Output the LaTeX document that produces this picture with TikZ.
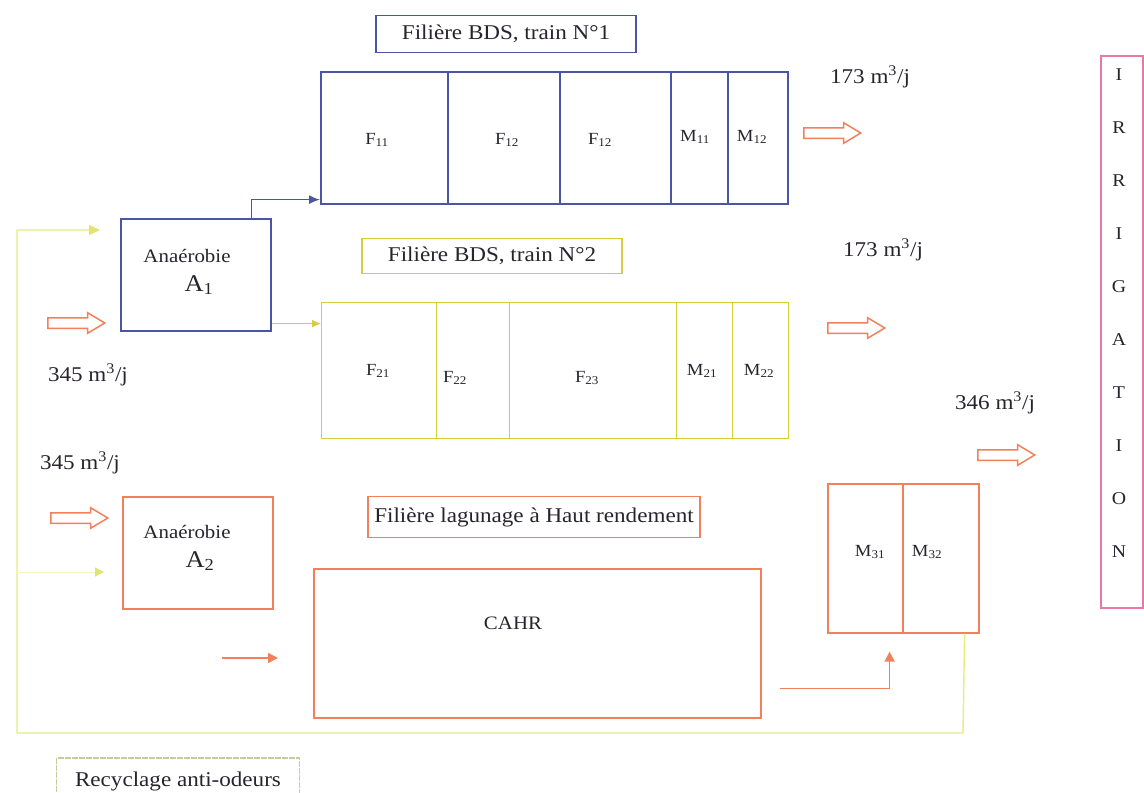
\documentclass[tikz,border=0pt]{standalone}
\usepackage{fontspec}
\setmainfont{Liberation Serif}[FakeStretch=1.1]
\usetikzlibrary{shapes.arrows,arrows.meta,calc}
\definecolor{cblue}{RGB}{75,85,165}
\definecolor{cyel}{RGB}{215,205,60}
\definecolor{cloop}{RGB}{228,236,130}
\definecolor{cloopl}{RGB}{242,246,200}
\definecolor{corange}{RGB}{242,128,90}
\definecolor{cpink}{RGB}{232,120,165}
\definecolor{crec}{RGB}{200,203,160}
\definecolor{ink}{RGB}{40,35,45}
\newcommand{\fs}[1]{\fontsize{#1}{#1}\selectfont}
\begin{document}
\begin{tikzpicture}[x=1pt,y=-1pt,
  every node/.style={inner sep=0pt, text=ink},
  cell/.style={draw, rectangle, anchor=north west, line width=1.6pt},
  bcell/.style={cell, draw=cblue},
  ycell/.style={cell, draw=cyel, line width=1.4pt},
  ocell/.style={cell, draw=corange},
  hollow/.style={single arrow, draw=corange, line width=1.5pt, inner xsep=0pt, inner ysep=4.5pt,
    minimum height=57pt, single arrow head extend=5pt, single arrow tip angle=62, anchor=tail},
  lbl/.style={font=\fs{21}},
  cellt/.style={font=\fs{17}},
  smallt/.style={font=\fs{19}},
  bigA/.style={font=\fs{24}},
  tag/.style={line width=1.5pt, rectangle, lbl}
]
\useasboundingbox (0,0) rectangle (1144,793);

% Train 1
\node[tag, draw=cblue, minimum width=260pt, minimum height=37pt] (L1) at (506,34) {Filière BDS, train N°1};
\node[bcell, minimum width=127pt, minimum height=132pt] (F11) at (320,71) {};
\node[bcell, minimum width=112pt, minimum height=132pt] (F12a) at (447,71) {};
\node[bcell, minimum width=111pt, minimum height=132pt] (F12b) at (559,71) {};
\node[bcell, minimum width=57pt, minimum height=132pt] (M11) at (670,71) {};
\node[bcell, minimum width=60pt, minimum height=132pt] (M12) at (727,71) {};
\node[cellt] (tF11) at (377,140) {F\textsubscript{11}};
\node[cellt] (tF12a) at (507,140) {F\textsubscript{12}};
\node[cellt] (tF12b) at (600,140) {F\textsubscript{12}};
\node[cellt] (tM11) at (695,137) {M\textsubscript{11}};
\node[cellt] (tM12) at (752,137) {M\textsubscript{12}};

% Train 2
\node[tag, draw=cyel, line width=1.3pt, minimum width=260pt, minimum height=35pt] (L2) at (492,256) {Filière BDS, train N°2};
\node[ycell, minimum width=115pt, minimum height=136pt] (F21) at (321,302) {};
\node[ycell, minimum width=73pt, minimum height=136pt] (F22) at (436,302) {};
\node[ycell, minimum width=167pt, minimum height=136pt] (F23) at (509,302) {};
\node[ycell, minimum width=56pt, minimum height=136pt] (M21) at (676,302) {};
\node[ycell, minimum width=56pt, minimum height=136pt] (M22) at (732,302) {};
\node[cellt] (tF21) at (378,371) {F\textsubscript{21}};
\node[cellt] (tF22) at (455,378) {F\textsubscript{22}};
\node[cellt] (tF23) at (587,378) {F\textsubscript{23}};
\node[cellt] (tM21) at (702,371) {M\textsubscript{21}};
\node[cellt] (tM22) at (759,371) {M\textsubscript{22}};

% Anaerobie
\node[bcell, minimum width=150pt, minimum height=112pt] (A1) at (120,218) {};
\node[smallt] (tA1a) at (187,256) {Anaérobie};
\node[bigA] (tA1b) at (199,285) {A\textsubscript{1}};
\node[ocell, minimum width=150pt, minimum height=112pt] (A2) at (122,496) {};
\node[smallt] (tA2a) at (187,532) {Anaérobie};
\node[bigA] (tA2b) at (200,561) {A\textsubscript{2}};

% Lagunage
\node[tag, draw=corange, minimum width=332pt, minimum height=41pt] (L3) at (534,517) {Filière lagunage à Haut rendement};
\node[ocell, minimum width=447pt, minimum height=149pt] (CAHR) at (313,568) {};
\node[smallt] (tCAHR) at (513,623) {CAHR};
\node[ocell, minimum width=75pt, minimum height=149pt] (M31) at (827,483) {};
\node[ocell, minimum width=76pt, minimum height=149pt] (M32) at (902,483) {};
\node[cellt] (tM31) at (870,552) {M\textsubscript{31}};
\node[cellt] (tM32) at (927,552) {M\textsubscript{32}};

% Irrigation
\node[draw=cpink, line width=1.5pt, anchor=north west, minimum width=42pt, minimum height=552pt] (IRR) at (1100,55) {};
\node[font={\fontsize{18}{53}\selectfont}, align=center] (IRRt) at (1119,313) {I\\R\\R\\I\\G\\A\\T\\I\\O\\N};

% Recyclage
\node[tag, draw=crec, line width=1.1pt, dash pattern=on 6pt off 1pt, minimum width=243pt, minimum height=46pt] (L4) at (178,781) {Recyclage anti-odeurs};

% Hollow arrows
\node[hollow] (O1) at (803,133) {};
\node[hollow] (O2) at (827,328) {};
\node[hollow] (O3) at (977,455) {};
\node[hollow] (I1) at (47,323) {};
\node[hollow] (I2) at (50,518) {};

% Flow labels
\node[lbl] (q1) at (870,77) {173 m\textsuperscript{3}/j};
\node[lbl] (q2) at (883,250) {173 m\textsuperscript{3}/j};
\node[lbl] (q3) at (995,403) {346 m\textsuperscript{3}/j};
\node[lbl] (q4) at (88,375) {345 m\textsuperscript{3}/j};
\node[lbl] (q5) at (80,463) {345 m\textsuperscript{3}/j};

% Connectors
\draw[cblue, line width=1.5pt, -{Latex[length=11pt,width=9pt]}]
  ($(A1.north east)+(-20,0)$) |- ($(F11.south west)+(0,-5)$);
\coordinate (y1) at ($(A1.south east)+(0,-8)$);
\draw[cyel, line width=1.3pt, -{Latex[length=9pt,width=8pt]}] (y1) -- (y1 -| F21.west);

\coordinate (c1) at ($(CAHR.east)+(18,45)$);
\coordinate (c2) at ($(M31.south east)+(-14,18)$);
\draw[corange, line width=1.5pt, -{Triangle[length=10pt,width=10pt]}] (c1) -| (c2);

\coordinate (s1) at (222,658);
\coordinate (s2) at (278,658);
\draw[corange, line width=1.5pt, -{Triangle[length=10pt,width=10pt]}] (s1) -- (s2);

% Recycling loop
\coordinate (r0) at ($(M32.south east)+(-15,0)$);
\coordinate (r1) at (963,733);
\coordinate (r2) at (17,733);
\coordinate (r3) at (17,230);
\coordinate (r4) at (100,230);
\draw[cloop, line width=1.4pt, -{Triangle[length=11pt,width=10pt,color=cloop!75!cyel]}] (r0) -- (r1) -- (r2) -- (r3) -- (r4);
\coordinate (b0) at (17,572);
\coordinate (b1) at (104,572);
\draw[cloopl, line width=1pt, -{Triangle[length=9pt,width=9pt,color=cloop!75!cyel]}] (b0) -- (b1);
\end{tikzpicture}
\end{document}
